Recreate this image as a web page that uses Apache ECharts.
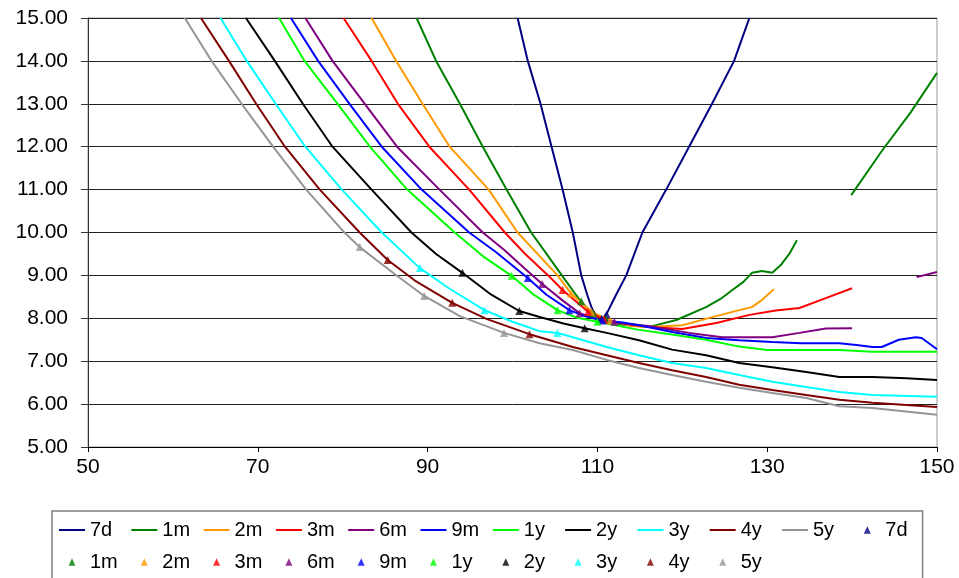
<!DOCTYPE html>
<html>
<head>
<meta charset="utf-8">
<script src="https://cdn.jsdelivr.net/npm/echarts@6/dist/echarts.min.js"></script>
<style>
  html, body { margin: 0; padding: 0; background: #fff; }
  #chart { width: 959px; height: 578px; }
</style>
</head>
<body>
<div id="chart"></div>
<script>
  // tenors and their colours
  var tenors = ['7d', '1m', '2m', '3m', '6m', '9m', '1y', '2y', '3y', '4y', '5y'];
  var colors = ['#000080', '#008000', '#ff9900', '#ff0000', '#800080', '#0000ff', '#00ff00', '#000000', '#00ffff', '#800000', '#969696'];

  // smile curves: [strike, vol]
  var smile7d = [[100.6, 15], [101.8, 14], [103.3, 13], [104.6, 12], [105.9, 11], [107.1, 10], [108.1, 9], [108.8, 8.55], [109.4, 8.2], [110.0, 8.02], [110.6, 7.98], [111.2, 8.15], [112.2, 8.55], [113.4, 9], [115.3, 10], [118.1, 11], [120.8, 12], [123.5, 13], [126.1, 14], [127.0, 14.5], [127.9, 15]];
  var smile1m = [[88.7, 15], [91.0, 14], [93.8, 13], [96.5, 12], [99.3, 11], [102.2, 10], [104.2, 9.45], [106.0, 8.95], [108.1, 8.38], [109.5, 8.1], [111, 7.95], [113, 7.85], [116.1, 7.8], [119.3, 7.96], [122.8, 8.26], [124.5, 8.45], [125.9, 8.66], [127.2, 8.85], [128.2, 9.06], [129.4, 9.1], [130.6, 9.06], [131.6, 9.24], [132.6, 9.5], [133.5, 9.82], [136.7, '-'], [139.9, 10.87], [143.5, 11.9], [146.9, 12.8], [150, 13.72]];
  var smile2m = [[83.4, 15], [86.3, 14], [89.4, 13], [92.6, 12], [97.2, 11], [100.6, 10], [103.2, 9.45], [105.3, 9.0], [106.9, 8.58], [109.3, 8.15], [111.5, 7.95], [114, 7.82], [116.1, 7.8], [120, 7.84], [123.2, 8.01], [126.7, 8.19], [128.2, 8.26], [129.4, 8.43], [130.8, 8.68]];
  var smile3m = [[80.1, 15], [83.4, 14], [86.5, 13], [90.2, 12], [94.9, 11], [99.1, 10], [101.5, 9.5], [104.2, 9.0], [105.9, 8.66], [108.9, 8.15], [111, 7.95], [114, 7.85], [116, 7.8], [120, 7.75], [124, 7.89], [127.9, 8.08], [131, 8.18], [133.8, 8.24], [136.9, 8.47], [140, 8.7]];
  var smile6m = [[75.6, 15], [78.8, 14], [82.6, 13], [86.4, 12], [91.4, 11], [96.5, 10], [99, 9.6], [101.5, 9.15], [103.5, 8.8], [106, 8.4], [107.9, 8.12], [110, 7.98], [112, 7.9], [116, 7.82], [120.8, 7.66], [124.7, 7.56], [127.9, 7.56], [130.6, 7.56], [133.8, 7.66], [136.9, 7.76], [140, 7.77], [147.0, '-'], [147.6, 8.96], [150, 9.08]];
  var smile9m = [[73.9, 15], [77.1, 14], [80.8, 13], [84.6, 12], [89.3, 11], [94.9, 10], [98, 9.55], [101.8, 8.94], [104, 8.55], [106.7, 8.19], [108.5, 8.05], [110.5, 7.95], [113, 7.9], [114.9, 7.84], [118.8, 7.68], [122.8, 7.54], [126.7, 7.49], [130.6, 7.45], [134, 7.42], [138.5, 7.42], [140.5, 7.38], [142.4, 7.33], [143.5, 7.33], [145.5, 7.5], [147.5, 7.56], [148.2, 7.54], [150, 7.28]];
  var smile1y = [[72.5, 15], [75.5, 14], [79.4, 13], [83.2, 12], [87.6, 11], [93.2, 10], [96.5, 9.45], [99.9, 8.99], [102.5, 8.55], [105.3, 8.19], [107.5, 8.02], [110, 7.92], [114.9, 7.73], [118.8, 7.62], [122.8, 7.5], [126.7, 7.34], [130, 7.26], [138.5, 7.26], [142.4, 7.22], [150, 7.22]];
  var smile2y = [[68.6, 15], [72, 14], [75.3, 13], [78.8, 12], [83.4, 11], [88.1, 10], [91, 9.5], [94.1, 9.06], [97.5, 8.55], [100.8, 8.17], [103.2, 8.03], [106, 7.88], [108.5, 7.77], [111.1, 7.66], [114.9, 7.49], [118.8, 7.27], [122.8, 7.14], [126.7, 6.96], [130.6, 6.86], [134.6, 6.75], [138.5, 6.63], [142.4, 6.63], [146.4, 6.6], [150, 6.56]];
  var smile3y = [[65.6, 15], [68.7, 14], [72.1, 13], [75.6, 12], [79.9, 11], [84.6, 10], [89.1, 9.17], [92.5, 8.7], [96.7, 8.19], [100, 7.92], [103.2, 7.7], [105.3, 7.66], [107.1, 7.56], [111.1, 7.33], [114.9, 7.14], [118.8, 6.96], [122.8, 6.84], [126.7, 6.68], [130.6, 6.52], [134.6, 6.4], [138.5, 6.28], [142.4, 6.21], [150, 6.17]];
  var smile4y = [[63.3, 15], [66.6, 14], [69.8, 13], [73.2, 12], [77.3, 11], [82, 10], [85.3, 9.36], [88.5, 8.88], [92.9, 8.36], [97, 7.98], [102, 7.63], [103.2, 7.56], [107.1, 7.33], [111.1, 7.14], [114.9, 6.96], [118.8, 6.79], [122.8, 6.63], [126.7, 6.45], [130.6, 6.33], [134.6, 6.21], [138.5, 6.1], [142.4, 6.03], [150, 5.93]];
  var smile5y = [[61.4, 15], [64.55, 14], [68.1, 13], [71.8, 12], [75.7, 11], [80.2, 10], [82, 9.66], [86, 9.05], [89.6, 8.52], [93.8, 8.05], [99, 7.66], [103.2, 7.42], [107.1, 7.26], [111.1, 7.03], [114.9, 6.84], [118.8, 6.68], [122.8, 6.52], [126.7, 6.38], [130.6, 6.26], [134.6, 6.14], [138.5, 5.95], [142.4, 5.91], [150, 5.75]];

  // quoted points (triangles)
  var pts7d = [[109.4, 8.17], [110.5, 7.99], [111.1, 8.08]];
  var pts1m = [[108.1, 8.4], [109.5, 8.12], [111, 7.98]];
  var pts2m = [[106.9, 8.58], [109.3, 8.15], [111.5, 7.95]];
  var pts3m = [[105.9, 8.66], [108.9, 8.15], [110.8, 7.97]];
  var pts6m = [[103.5, 8.8], [107.9, 8.12], [112, 7.92]];
  var pts9m = [[101.8, 8.94], [106.7, 8.19], [110.6, 7.95]];
  var pts1y = [[99.9, 8.99], [105.3, 8.19], [110, 7.92]];
  var pts2y = [[94.1, 9.06], [100.8, 8.17], [108.5, 7.77]];
  var pts3y = [[89.1, 9.17], [96.7, 8.19], [105.3, 7.66]];
  var pts4y = [[85.3, 9.36], [92.9, 8.36], [102.0, 7.63]];
  var pts5y = [[82.0, 9.66], [89.6, 8.52], [99.0, 7.66]];

  var smiles = [smile7d, smile1m, smile2m, smile3m, smile6m, smile9m, smile1y, smile2y, smile3y, smile4y, smile5y];
  var points = [pts7d, pts1m, pts2m, pts3m, pts6m, pts9m, pts1y, pts2y, pts3y, pts4y, pts5y];

  var font = "'Liberation Sans', Arial, sans-serif";
  // legend icons: a short bar, and a small triangle centred in the same box
  var lineIcon = 'path://M0,0H26V2H0Z';
  var triIcon = 'path://M0,4L0,4ZM26,4L26,4ZM13,0.5L16.5,8L9.5,8Z';

  var series = [], legendData = [];
  tenors.forEach(function (t, i) {
    series.push({
      name: t,
      type: 'line',
      data: smiles[i],
      symbol: 'none',
      color: colors[i],
      lineStyle: { width: 2, color: colors[i] },
      connectNulls: false
    });
    legendData.push({ name: t, icon: lineIcon });
  });
  // triangle series get a trailing space so the legend keeps them apart
  tenors.forEach(function (t, i) {
    series.push({
      name: t + ' ',
      type: 'scatter',
      data: points[i],
      symbol: 'triangle',
      symbolSize: 8,
      color: colors[i],
      itemStyle: { color: colors[i] },
      z: 3
    });
    legendData.push({ name: t + ' ', icon: triIcon });
  });

  var chart = echarts.init(document.getElementById('chart'));
  chart.setOption({
    animation: false,
    textStyle: { fontFamily: font },
    grid: {
      left: 88, right: 22, top: 18, bottom: 131,
      show: true, borderColor: '#999', borderWidth: 1
    },
    xAxis: {
      type: 'value',
      min: 50, max: 150, interval: 20,
      axisLine: { lineStyle: { color: '#000', width: 1 } },
      axisTick: { show: true, length: 5, lineStyle: { color: '#000' } },
      axisLabel: { color: '#000', fontSize: 21, margin: 10, fontFamily: font },
      splitLine: { show: false }
    },
    yAxis: {
      type: 'value',
      min: 5, max: 15, interval: 1,
      axisLine: { show: true, lineStyle: { color: '#333', width: 1 } },
      axisTick: { show: true, length: 7, lineStyle: { color: '#333' } },
      axisLabel: {
        color: '#000', fontSize: 21, margin: 20, fontFamily: font,
        formatter: function (v) { return v.toFixed(2); }
      },
      splitLine: { show: true, lineStyle: { color: '#222', width: 1 } }
    },
    legend: {
      left: 52, top: 511,
      width: 870,
      padding: [9, 8, 9, 7],
      itemGap: 12,
      itemWidth: 26,
      itemHeight: 8,
      symbolKeepAspect: true,
      borderColor: '#808080',
      borderWidth: 1.5,
      data: legendData,
      formatter: function (name) { return '{a|' + name.trim() + '}'; },
      textStyle: {
        color: '#000', fontSize: 20, fontFamily: font,
        rich: {
          a: { width: 29.3, fontSize: 20, fontFamily: font, color: '#000', backgroundColor: 'rgba(255,255,255,0)' }
        }
      }
    },
    series: series
  });
</script>
</body>
</html>
